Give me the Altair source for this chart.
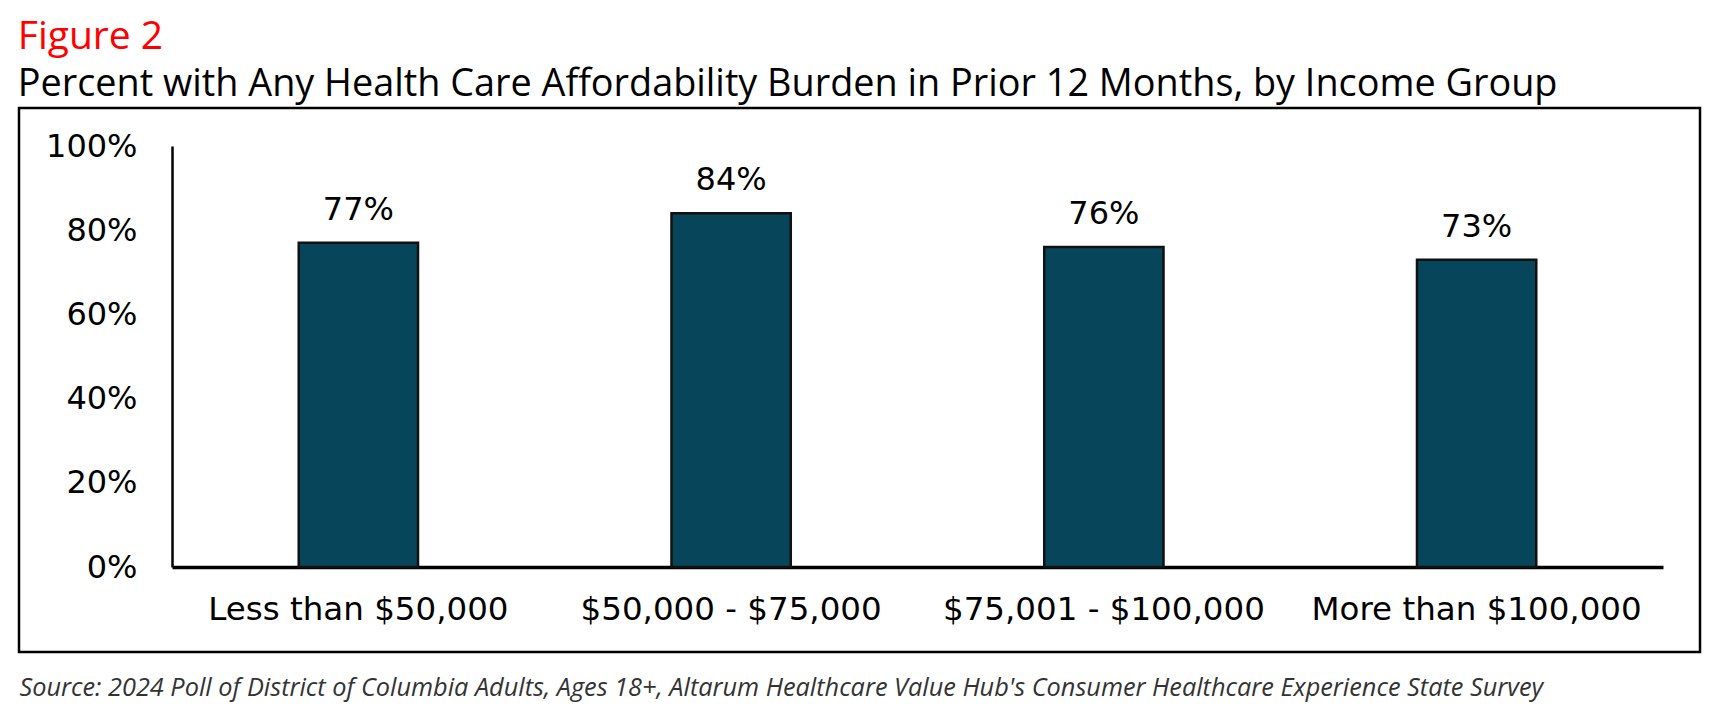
import altair as alt
import pandas as pd

categories = ["Less than $50,000", "$50,000 - $75,000", "$75,001 - $100,000", "More than $100,000"]
values = [77, 84, 76, 73]
y_ticks = [0, 20, 40, 60, 80, 100]

FONT = "Open Sans"
AXFONT = "DejaVu Sans"
df = pd.DataFrame({"group": categories, "pct": values})
df["label"] = [f"{v}%" for v in values]

base = alt.Chart(df)

bars = base.mark_bar(color="#07465A", stroke="#111111", strokeWidth=2.5).encode(
    x=alt.X("group:N", sort=categories,
            scale=alt.Scale(paddingInner=0.68, paddingOuter=0.34),
            axis=alt.Axis(title="Source: 2024 Poll of District of Columbia Adults, Ages 18+, Altarum Healthcare Value Hub's Consumer Healthcare Experience State Survey",
                          labelAngle=0, labelFont=AXFONT, labelFontSize=32.5, labelColor="#000000",
                          labelPadding=26, labelLimit=0, ticks=False, domainColor="#000000", domainWidth=3.5,
                          titleFont=FONT, titleFontSize=25.3, titleFontStyle="italic",
                          titleFontWeight="normal", titleColor="#333333",
                          titleAnchor="start", titleAlign="left", titleBaseline="alphabetic",
                          titleX=-153, titleY=128)),
    y=alt.Y("pct:Q", scale=alt.Scale(domain=[0, 100]),
            axis=alt.Axis(title=None, values=y_ticks, labelExpr="datum.value + '%'",
                          labelFont=AXFONT, labelFontSize=32, labelColor="#000000",
                          labelPadding=35, ticks=False, grid=False,
                          domainColor="#000000", domainWidth=2.5)),
)

texts = base.mark_text(font=AXFONT, fontSize=32, color="#000000", baseline="alphabetic", dy=-23).encode(
    x=alt.X("group:N", sort=categories),
    y="pct:Q",
    text="label:N",
)

frame = alt.Chart(pd.DataFrame({"f": [0]})).mark_rect(
    fillOpacity=0, stroke="#000000", strokeWidth=2.5
).encode(
    x=alt.value(-153), x2=alt.value(1528), y=alt.value(-38), y2=alt.value(506)
)

chart = alt.layer(frame, bars, texts).properties(
    width=1491, height=421,
    title=alt.Title("Figure 2",
                    subtitle="Percent with Any Health Care Affordability Burden in Prior 12 Months, by Income Group",
                    anchor="start", frame="bounds", offset=6, dy=3,
                    font=FONT, fontSize=39, fontWeight="normal", color="#FF0000",
                    subtitleFont=FONT, subtitleFontSize=37.8, subtitleFontWeight=500,
                    subtitleColor="#000000", subtitlePadding=9),
    autosize=alt.AutoSizeParams(type="none"),
    padding={"left": 164, "top": 138, "right": 40, "bottom": 138},
).configure_view(stroke=None)

chart.save("out.html", embed_options={"renderer": "svg", "actions": False})
